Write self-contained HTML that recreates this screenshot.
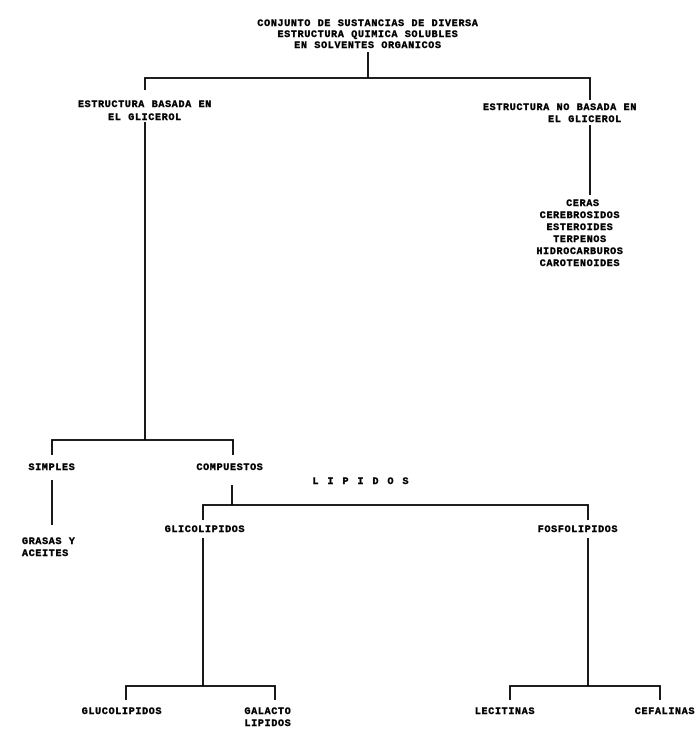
<!DOCTYPE html>
<html><head><meta charset="utf-8"><style>
html,body{margin:0;padding:0;background:#fff;}
svg text{font-family:"Liberation Mono",monospace;font-weight:bold;font-size:10px;letter-spacing:0.7px;fill:#000;stroke:#000;stroke-width:0.4px;}
</style></head><body>
<svg width="700" height="732" viewBox="0 0 700 732" xmlns="http://www.w3.org/2000/svg">
<g stroke="#000" stroke-width="1.8" fill="none">
<path d="M368 52V78M145 90V78H590V100"/>
<path d="M145 122V440M590 125V195"/>
<path d="M52 455V440H233V455"/>
<path d="M52 480V525M232 485V505"/>
<path d="M203 520V505H588V520"/>
<path d="M203 538V686M588 538V686"/>
<path d="M126 700V686H275V700M510 700V686H660V700"/>
</g>
<g text-anchor="middle">
<text x="368" y="26">CONJUNTO DE SUSTANCIAS DE DIVERSA</text>
<text x="368" y="37">ESTRUCTURA QUIMICA SOLUBLES</text>
<text x="368" y="48">EN SOLVENTES ORGANICOS</text>
<text x="145" y="107">ESTRUCTURA BASADA EN</text>
<text x="145" y="120">EL GLICEROL</text>
<text x="560" y="110">ESTRUCTURA NO BASADA EN</text>
<text x="585" y="122">EL GLICEROL</text>
<text x="583" y="206">CERAS</text>
<text x="580" y="218">CEREBROSIDOS</text>
<text x="580" y="230">ESTEROIDES</text>
<text x="580" y="242">TERPENOS</text>
<text x="580" y="254">HIDROCARBUROS</text>
<text x="580" y="266">CAROTENOIDES</text>
<text x="52" y="470">SIMPLES</text>
<text x="230" y="470">COMPUESTOS</text>
<text x="365" y="484" style="letter-spacing:9px">LIPIDOS</text>
<text x="205" y="532">GLICOLIPIDOS</text>
<text x="578" y="532">FOSFOLIPIDOS</text>
<text x="122" y="714">GLUCOLIPIDOS</text>
<text x="268" y="714">GALACTO</text>
<text x="268" y="726">LIPIDOS</text>
<text x="505" y="714">LECITINAS</text>
<text x="665" y="714">CEFALINAS</text>
</g>
<text x="22" y="544">GRASAS Y</text>
<text x="22" y="556">ACEITES</text>
</svg>
</body></html>
